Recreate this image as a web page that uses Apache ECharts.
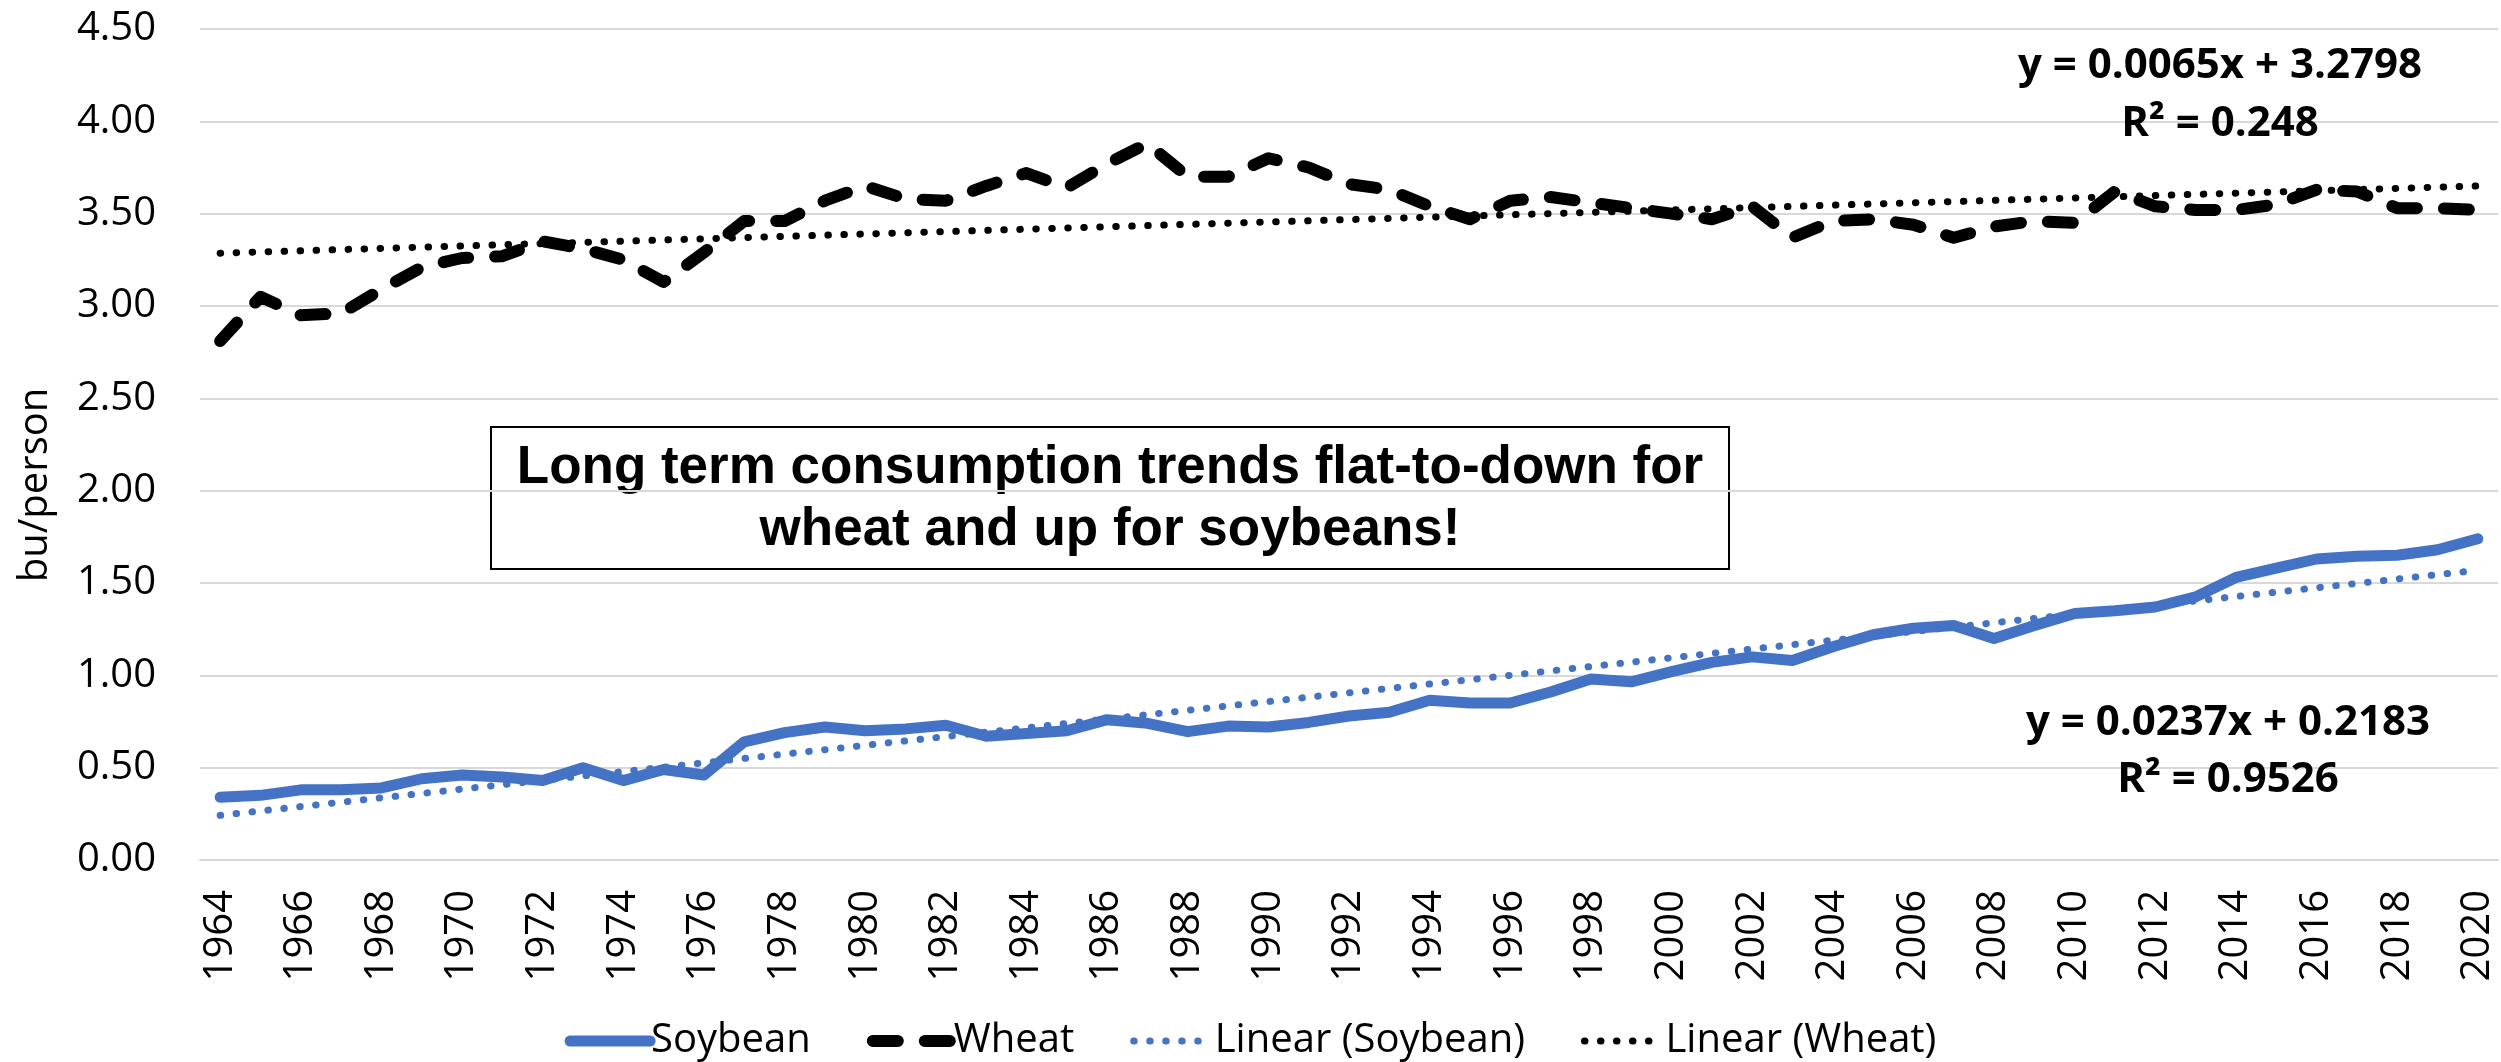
<!DOCTYPE html>
<html>
<head>
<meta charset="utf-8">
<title>Consumption trends</title>
<script src="https://cdn.jsdelivr.net/npm/echarts@6/dist/echarts.min.js"></script>
<style>
  html, body { margin: 0; padding: 0; background: #fff; }
  #chart { width: 2501px; height: 1062px; }
</style>
</head>
<body>
<div id="chart"></div>
<script type="text/javascript">
// years 1964..2020
var years = [];
for (var y = 1964; y <= 2020; y++) years.push(String(y));

var soybean = [0.34, 0.35, 0.38, 0.38, 0.39, 0.44, 0.46, 0.45, 0.43, 0.50,
    0.43, 0.49, 0.46, 0.64, 0.69, 0.72, 0.70, 0.71, 0.73, 0.67,
    0.685, 0.70, 0.76, 0.74, 0.695, 0.725, 0.72, 0.745, 0.78, 0.80,
    0.865, 0.85, 0.85, 0.91, 0.98, 0.965, 1.02, 1.07, 1.10, 1.08,
    1.155, 1.22, 1.255, 1.27, 1.20, 1.27, 1.335, 1.35, 1.37, 1.425,
    1.53, 1.58, 1.63, 1.645, 1.65, 1.68, 1.74];

var wheat = [2.81, 3.05, 2.95, 2.96, 3.09, 3.21, 3.26, 3.27, 3.35, 3.31,
    3.25, 3.13, 3.29, 3.46, 3.46, 3.57, 3.65, 3.58, 3.57, 3.65,
    3.72, 3.64, 3.77, 3.88, 3.70, 3.70, 3.80, 3.75, 3.66, 3.63,
    3.54, 3.47, 3.57, 3.59, 3.56, 3.53, 3.50, 3.47, 3.54, 3.37,
    3.46, 3.47, 3.44, 3.37, 3.43, 3.46, 3.45, 3.62, 3.54, 3.52,
    3.52, 3.55, 3.63, 3.62, 3.53, 3.53, 3.52];

// trend line end points (first and last year)
var trendYears = ['1964', '2020'];
var soyTrend = [0.242, 1.569];
var wheatTrend = [3.286, 3.650];

var yTicks = [0, 0.5, 1, 1.5, 2, 2.5, 3, 3.5, 4, 4.5];

var BLUE = '#4472C4';
var AXIS_FONT = '"Open Sans", "Noto Sans", sans-serif';
var EQ_FONT = 'bold 42px "Open Sans", sans-serif';
var BOX_FONT = 'bold 53px "Liberation Sans", Arial, sans-serif';

function pairs(xs, vs) {
    return xs.map(function (x, i) { return [x, vs[i]]; });
}

var chart = echarts.init(document.getElementById('chart'));

var option = {
    animation: false,
    grid: { left: 200, right: 3, top: 29, bottom: 202 },
    xAxis: {
        type: 'category',
        data: years,
        boundaryGap: true,
        axisLine: { show: true, lineStyle: { color: '#d9d9d9', width: 2 } },
        axisTick: { show: false },
        axisLabel: {
            interval: 1,
            rotate: 90,
            margin: 30,
            color: '#000',
            fontSize: 40,
            fontFamily: AXIS_FONT
        },
        splitLine: { show: false }
    },
    yAxis: {
        type: 'value',
        min: yTicks[0],
        max: yTicks[yTicks.length - 1],
        interval: 0.5,
        axisLine: { show: false },
        axisTick: { show: false },
        axisLabel: {
            margin: 44,
            color: '#000',
            fontSize: 40,
            fontFamily: AXIS_FONT,
            formatter: function (v) { return v.toFixed(2); }
        },
        splitLine: { lineStyle: { color: '#d9d9d9', width: 2 } }
    },
    legend: {
        left: 'center',
        top: 1016,
        itemWidth: 80,
        itemHeight: 20,
        itemGap: 56,
        itemStyle: { opacity: 0 },
        lineStyle: { width: 'inherit' },
        textStyle: { color: '#000', fontSize: 40, fontFamily: AXIS_FONT, padding: [0, 0, 0, -4] },
        data: ['Soybean', 'Wheat', 'Linear (Soybean)', 'Linear (Wheat)']
    },
    series: [
        {
            name: 'Soybean',
            type: 'line',
            data: soybean,
            symbol: 'none',
            lineStyle: { color: BLUE, width: 11, cap: 'round', join: 'round' },
            itemStyle: { color: BLUE },
            z: 2
        },
        {
            name: 'Wheat',
            type: 'line',
            data: wheat,
            symbol: 'none',
            lineStyle: { color: '#000', width: 12, type: [25, 27], cap: 'round', join: 'round' },
            itemStyle: { color: '#000' },
            z: 2
        },
        {
            name: 'Linear (Soybean)',
            type: 'line',
            data: pairs(trendYears, soyTrend),
            symbol: 'none',
            lineStyle: { color: BLUE, width: 7, type: [0.5, 15.5], cap: 'round' },
            itemStyle: { color: BLUE },
            z: 3
        },
        {
            name: 'Linear (Wheat)',
            type: 'line',
            data: pairs(trendYears, wheatTrend),
            symbol: 'none',
            lineStyle: { color: '#000', width: 7, type: [0.5, 15.5], cap: 'round' },
            itemStyle: { color: '#000' },
            z: 3
        }
    ],
    graphic: [
        {
            type: 'text', x: 36, y: 485, rotation: Math.PI / 2,
            style: { text: 'bu/person', font: '40px "Open Sans", sans-serif', fill: '#000',
                     textAlign: 'center', textVerticalAlign: 'middle' }
        },
        {
            type: 'group', z: 10,
            children: [
                { type: 'rect', shape: { x: 491, y: 427, width: 1238, height: 142 },
                  style: { fill: '#fff', stroke: '#000', lineWidth: 2 } },
                { type: 'text', x: 1110, y: 468,
                  style: { text: 'Long term consumption trends flat-to-down for',
                           font: BOX_FONT, fill: '#000',
                           textAlign: 'center', textVerticalAlign: 'middle' } },
                { type: 'text', x: 1110, y: 530,
                  style: { text: 'wheat and up for soybeans!',
                           font: BOX_FONT, fill: '#000',
                           textAlign: 'center', textVerticalAlign: 'middle' } }
            ]
        },
        { type: 'text', x: 2220, y: 66, z: 10,
          style: { text: 'y = 0.0065x + 3.2798', font: EQ_FONT, fill: '#000',
                   textAlign: 'center', textVerticalAlign: 'middle' } },
        { type: 'text', x: 2220, y: 124, z: 10,
          style: { text: 'R² = 0.248', font: EQ_FONT, fill: '#000',
                   textAlign: 'center', textVerticalAlign: 'middle' } },
        { type: 'text', x: 2228, y: 723, z: 10,
          style: { text: 'y = 0.0237x + 0.2183', font: EQ_FONT, fill: '#000',
                   textAlign: 'center', textVerticalAlign: 'middle' } },
        { type: 'text', x: 2228, y: 780, z: 10,
          style: { text: 'R² = 0.9526', font: EQ_FONT, fill: '#000',
                   textAlign: 'center', textVerticalAlign: 'middle' } }
    ]
};

chart.setOption(option);
</script>
</body>
</html>
